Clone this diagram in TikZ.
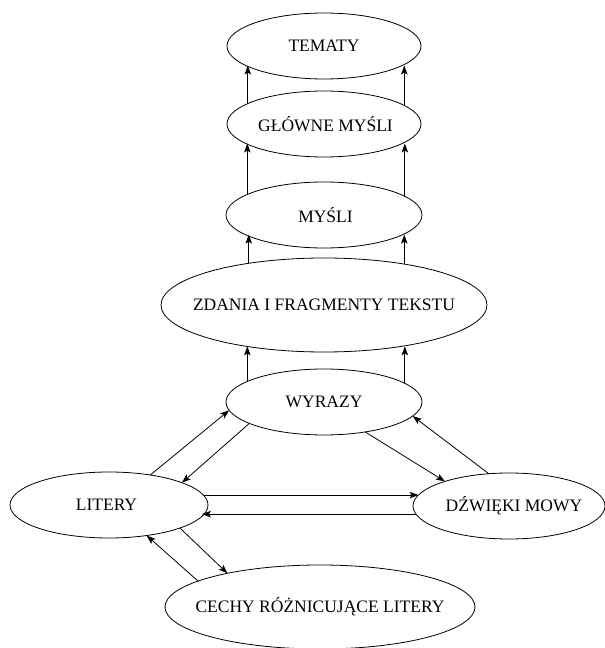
\documentclass[tikz,border=0pt]{standalone}
\usepackage{fontspec}
\setmainfont{Liberation Serif}
\usetikzlibrary{arrows.meta,shapes.geometric}
\tikzset{
  ell/.style={draw, ellipse, inner sep=0pt, outer sep=0pt, line width=0.8pt,
    font=\fontsize{17.5}{20}\selectfont},
  arr/.style={line width=0.8pt, -{Stealth[length=9pt,width=6.5pt,inset=2pt]}}
}
\newcommand{\zt}[1]{\makebox[0pt]{#1}}
\begin{document}
\begin{tikzpicture}[x=1pt,y=1pt]
\useasboundingbox (0,0) rectangle (605,648);
% nodes (y = 648 - pixel y)
\node[ell, minimum width=194, minimum height=66] (tem) at (324,602) {\zt{TEMATY}};
\node[ell, minimum width=194, minimum height=66] (glo) at (324,524) {\zt{\hspace{3pt}GŁÓWNE MYŚLI}};
\node[ell, minimum width=196, minimum height=66] (mys) at (324,433) {\zt{\hspace{3pt}\raisebox{-3pt}{MYŚLI}}};
\node[ell, minimum width=326, minimum height=94] (zda) at (324,343) {\zt{ZDANIA I FRAGMENTY TEKSTU}};
\node[ell, minimum width=196, minimum height=66] (wyr) at (324,246) {\zt{WYRAZY}};
\node[ell, minimum width=198, minimum height=66] (lit) at (109,143) {\zt{LITERY\hspace{5pt}}};
\node[ell, minimum width=192, minimum height=66] (dzw) at (509,142) {\zt{\hspace{10pt}DŹWIĘKI MOWY}};
\node[ell, minimum width=310, minimum height=84] (cec) at (320,41) {\zt{CECHY RÓŻNICUJĄCE LITERY}};
% vertical arrows
\draw[arr] (glo.165.4) -- (glo.165.4 |- tem.194.6);
\draw[arr] (glo.13.6) -- (glo.13.6 |- tem.346.4);
\draw[arr] (mys.165.2) -- (mys.165.2 |- glo.194.6);
\draw[arr] (mys.13.9) -- (mys.13.9 |- glo.346.4);
\draw[arr] (zda.151.7) -- (zda.151.7 |- mys.194.8);
\draw[arr] (zda.27.5) -- (zda.27.5 |- mys.346.1);
\draw[arr] (wyr.165.2) -- (wyr.165.2 |- zda.208.3);
\draw[arr] (wyr.13.9) -- (wyr.13.9 |- zda.332.5);
% triangle arrows
\draw[arr] (lit.36.7) -- (wyr.185.6);
\draw[arr] (wyr.196.7) -- (lit.17.7);
\draw[arr] (wyr.324.3) -- (dzw.159.5);
\draw[arr] (dzw.122.9) -- (wyr.351.8);
\draw[arr] (lit.6.05) -- (lit.6.05 -| dzw.173.1);
\draw[arr] (dzw.185.6) -- (dzw.185.6 -| lit.353.95);
\draw[arr] (cec.168.9) -- (lit.321.5);
\draw[arr] (lit.342.1) -- (cec.160.8);
\end{tikzpicture}
\end{document}
